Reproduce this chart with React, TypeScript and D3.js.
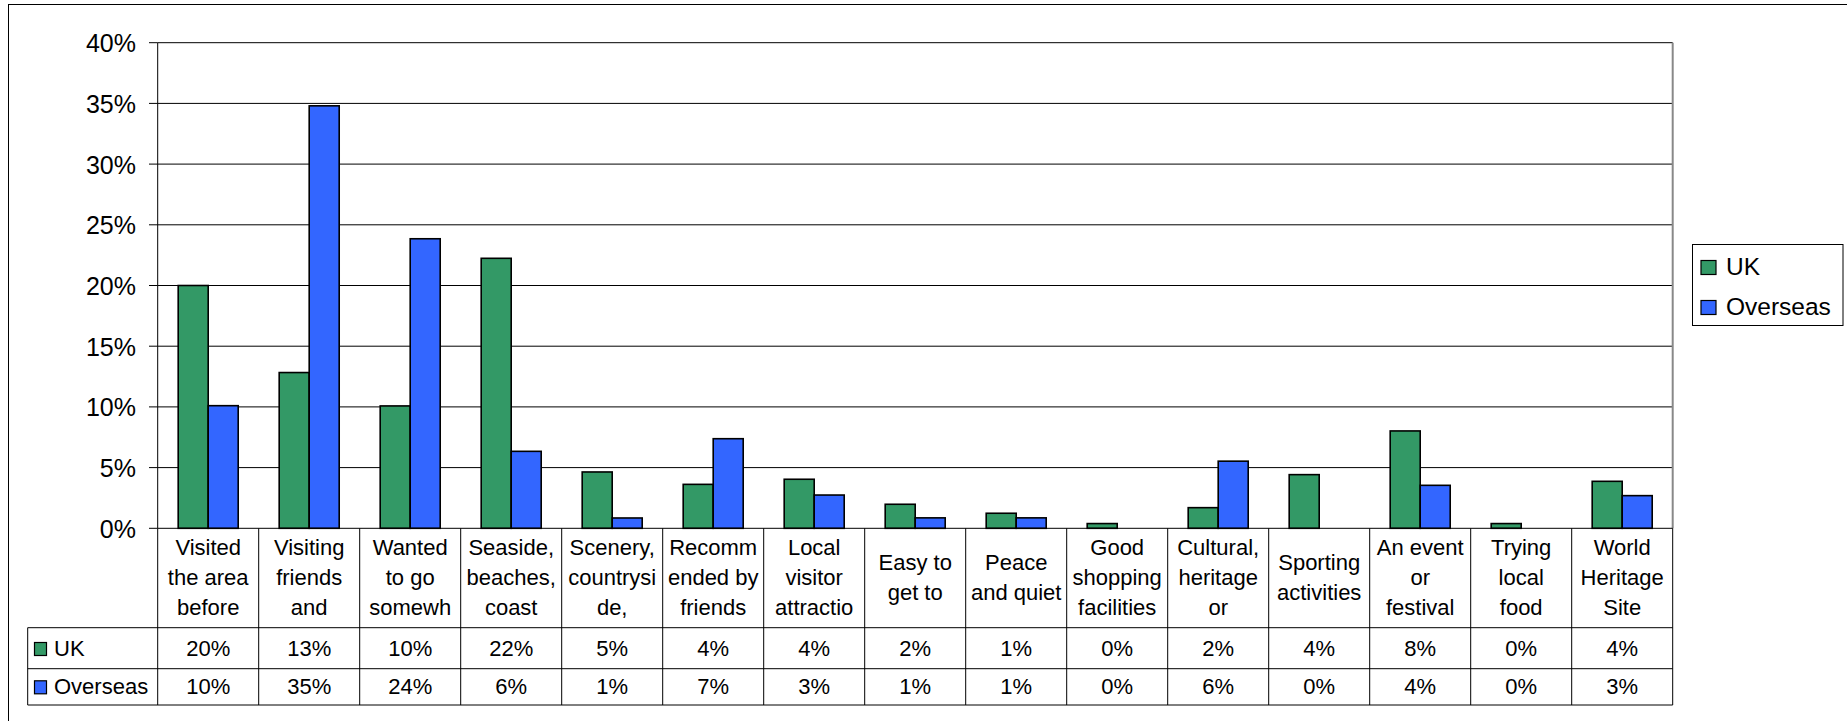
import React from "react";
import * as d3 from "d3";

const categories: string[][] = [
  ["Visited", "the area", "before"],
  ["Visiting", "friends", "and"],
  ["Wanted", "to go", "somewh"],
  ["Seaside,", "beaches,", "coast"],
  ["Scenery,", "countrysi", "de,"],
  ["Recomm", "ended by", "friends"],
  ["Local", "visitor", "attractio"],
  ["Easy to", "get to"],
  ["Peace", "and quiet"],
  ["Good", "shopping", "facilities"],
  ["Cultural,", "heritage", "or"],
  ["Sporting", "activities"],
  ["An event", "or", "festival"],
  ["Trying", "local", "food"],
  ["World", "Heritage", "Site"],
];

const ukValues = [0.2, 0.1283, 0.1008, 0.2224, 0.0464, 0.0362, 0.0404, 0.0198, 0.0124, 0.0039, 0.017, 0.0442, 0.0802, 0.0039, 0.0387];
const overseasValues = [0.101, 0.348, 0.2385, 0.0634, 0.0085, 0.0738, 0.0274, 0.0086, 0.0086, 0, 0.0553, 0, 0.0354, 0, 0.0269];

const seriesNames = ["UK", "Overseas"];
const seriesColors = ["#339966", "#3366FF"];
const yTicks = [0, 0.05, 0.1, 0.15, 0.2, 0.25, 0.3, 0.35, 0.4];

const FONT = "'Liberation Sans', Arial, Helvetica, sans-serif";

export default function App() {
  const W = 1847;
  const H = 721;
  const plotLeft = 157.7;
  const plotRight = 1672.7;
  const plotTop = 42.7;
  const plotBottom = 528.3;
  const tableLeft = 27.7;
  const row1 = 627.7;
  const row2 = 668.7;
  const row3 = 705;

  const idx = categories.map((_, i) => String(i));
  const x0 = d3.scaleBand<string>().domain(idx).range([plotLeft, plotRight]).paddingInner(0).paddingOuter(0);
  const x1 = d3
    .scaleBand<string>()
    .domain(seriesNames)
    .range([0, x0.bandwidth()])
    .paddingInner(0)
    .paddingOuter(0.683);
  const y = d3.scaleLinear().domain([0, 0.4]).range([plotBottom, plotTop]);
  const fmt = d3.format(".0%");
  const series = [ukValues, overseasValues];

  const boundaries = d3.range(categories.length + 1).map((i) =>
    i < categories.length ? (x0(String(i)) as number) : plotRight
  );

  return (
    <svg
      width={W}
      height={H}
      style={{ position: "absolute", left: 0, top: 0, display: "block", background: "#fff" }}
      fontFamily={FONT}
    >
      <rect x={0} y={0} width={W} height={H} fill="#fff" />
      {/* outer frame */}
      <line x1={8} x2={W} y1={4.5} y2={4.5} stroke="#000" strokeWidth={1} />
      <line x1={8.5} x2={8.5} y1={4} y2={H} stroke="#000" strokeWidth={1} />

      {/* gridlines */}
      {yTicks.map((t) => (
        <g key={"g" + t}>
          {t > 0 && (
            <line x1={plotLeft} x2={plotRight} y1={y(t)} y2={y(t)} stroke="#000" strokeWidth={1} />
          )}
          <line x1={149} x2={plotLeft} y1={y(t)} y2={y(t)} stroke="#000" strokeWidth={1} />
          <text x={136} y={y(t) + 9.5} fontSize={25} textAnchor="end" fill="#000">
            {fmt(t)}
          </text>
        </g>
      ))}
      {/* plot right border */}
      <line x1={plotRight} x2={plotRight} y1={plotTop} y2={plotBottom} stroke="#888" strokeWidth={2} />

      {/* bars */}
      {categories.map((_, i) =>
        series.map((vals, s) => {
          const v = vals[i];
          if (v <= 0) return null;
          const bx = (x0(String(i)) as number) + (x1(seriesNames[s]) as number);
          return (
            <rect
              key={`b${i}-${s}`}
              x={bx}
              y={y(v)}
              width={x1.bandwidth()}
              height={y(0) - y(v)}
              fill={seriesColors[s]}
              stroke="#000"
              strokeWidth={1.6}
            />
          );
        })
      )}

      {/* axes */}
      <line x1={plotLeft} x2={plotLeft} y1={plotTop} y2={plotBottom} stroke="#000" strokeWidth={1} />
      <line x1={plotLeft} x2={plotRight} y1={plotBottom} y2={plotBottom} stroke="#000" strokeWidth={1} />

      {/* data table */}
      {boundaries.map((bx, i) => (
        <line key={"v" + i} x1={bx} x2={bx} y1={plotBottom} y2={row3} stroke="#000" strokeWidth={1} />
      ))}
      <line x1={tableLeft} x2={tableLeft} y1={row1} y2={row3} stroke="#000" strokeWidth={1} />
      {[row1, row2, row3].map((ry) => (
        <line key={"h" + ry} x1={tableLeft} x2={plotRight} y1={ry} y2={ry} stroke="#000" strokeWidth={1} />
      ))}

      {/* category labels */}
      {categories.map((lines, i) => {
        const cx = (x0(String(i)) as number) + x0.bandwidth() / 2;
        const lh = 30;
        const centerY = 576.7;
        const first = centerY - ((lines.length - 1) * lh) / 2;
        return (
          <text key={"c" + i} textAnchor="middle" fontSize={22} fill="#000">
            {lines.map((ln, k) => (
              <tspan key={k} x={cx} y={first + k * lh + 7.8}>
                {ln}
              </tspan>
            ))}
          </text>
        );
      })}

      {/* row headers & values */}
      {series.map((vals, s) => {
        const baseY = s === 0 ? 656 : 694.3;
        return (
          <g key={"r" + s}>
            <rect
              x={34.5}
              y={baseY - 13.5}
              width={12}
              height={13}
              fill={seriesColors[s]}
              stroke="#000"
              strokeWidth={1.2}
            />
            <text x={54} y={baseY} fontSize={22} fill="#000">
              {seriesNames[s]}
            </text>
            {vals.map((v, i) => (
              <text
                key={i}
                x={(x0(String(i)) as number) + x0.bandwidth() / 2}
                y={baseY}
                fontSize={22}
                textAnchor="middle"
                fill="#000"
              >
                {fmt(v)}
              </text>
            ))}
          </g>
        );
      })}

      {/* legend */}
      <rect x={1692.5} y={244.5} width={150.5} height={81} fill="#fff" stroke="#000" strokeWidth={1} />
      {seriesNames.map((name, s) => {
        const baseY = s === 0 ? 275 : 315;
        return (
          <g key={"l" + s}>
            <rect
              x={1701}
              y={baseY - 14.5}
              width={15}
              height={14}
              fill={seriesColors[s]}
              stroke="#000"
              strokeWidth={1.2}
            />
            <text x={1726} y={baseY} fontSize={24.5} fill="#000">
              {name}
            </text>
          </g>
        );
      })}
    </svg>
  );
}
